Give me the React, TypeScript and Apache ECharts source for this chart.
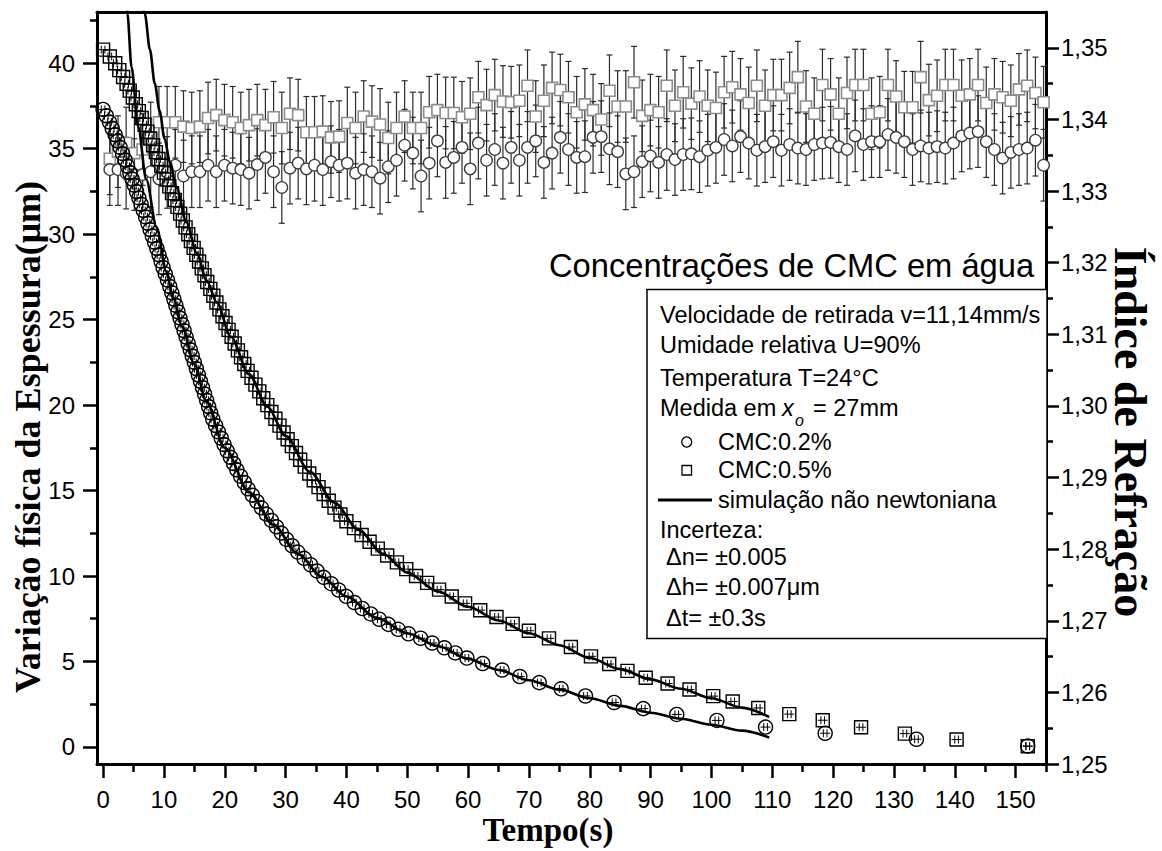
import React, { useEffect, useRef } from 'react';
import * as echarts from 'echarts';

// ---------- axis ticks ----------
const X_TICKS = [0, 10, 20, 30, 40, 50, 60, 70, 80, 90, 100, 110, 120, 130, 140, 150];
const X_MINOR = [5, 15, 25, 35, 45, 55, 65, 75, 85, 95, 105, 115, 125, 135, 145, 155];
const Y_TICKS = [0, 5, 10, 15, 20, 25, 30, 35, 40];
const Y_MINOR = [2.5, 7.5, 12.5, 17.5, 22.5, 27.5, 32.5, 37.5, 42.5];
const N_TICKS = [1.25, 1.26, 1.27, 1.28, 1.29, 1.3, 1.31, 1.32, 1.33, 1.34, 1.35];
const N_MINOR = [1.255, 1.265, 1.275, 1.285, 1.295, 1.305, 1.315, 1.325, 1.335, 1.345];

// ---------- uncertainties ----------
const DELTA_N = 0.005;
const DELTA_T = 0.3;

// ---------- refractive index (right axis) ----------
const INDEX_TIME = [
  1.10, 2.45, 3.79, 5.14, 6.49, 7.83, 9.18, 10.53, 11.87, 13.22, 14.57, 15.91, 17.26, 18.60, 19.95,
  21.30, 22.64, 23.99, 25.34, 26.68, 28.03, 29.38, 30.72, 32.07, 33.42, 34.76, 36.11, 37.46, 38.80, 40.15,
  41.50, 42.84, 44.19, 45.53, 46.88, 48.23, 49.57, 50.92, 52.27, 53.61, 54.96, 56.31, 57.65, 59.00, 60.35,
  61.69, 63.04, 64.39, 65.73, 67.08, 68.43, 69.77, 71.12, 72.46, 73.81, 75.16, 76.50, 77.85, 79.20, 80.54,
  81.89, 83.24, 84.58, 85.93, 87.28, 88.62, 89.97, 91.32, 92.66, 94.01, 95.36, 96.70, 98.05, 99.39, 100.74,
  102.09, 103.43, 104.78, 106.13, 107.47, 108.82, 110.17, 111.51, 112.86, 114.21, 115.55, 116.90, 118.25, 119.59, 120.94,
  122.29, 123.63, 124.98, 126.32, 127.67, 129.02, 130.36, 131.71, 133.06, 134.40, 135.75, 137.10, 138.44, 139.79, 141.14,
  142.48, 143.83, 145.18, 146.52, 147.87, 149.22, 150.56, 151.91, 153.26, 154.60,
];
const INDEX_CMC02 = [
  1.3330, 1.3330, 1.3325, 1.3323, 1.3323, 1.3327, 1.3317, 1.3326, 1.3336, 1.3321, 1.3327, 1.3327, 1.3336, 1.3327, 1.3336,
  1.3332, 1.3330, 1.3325, 1.3337, 1.3347, 1.3327, 1.3305, 1.3332, 1.3339, 1.3331, 1.3336, 1.3330, 1.3341, 1.3336, 1.3339,
  1.3325, 1.3330, 1.3327, 1.3318, 1.3334, 1.3343, 1.3364, 1.3353, 1.3321, 1.3339, 1.3370, 1.3340, 1.3347, 1.3361, 1.3331,
  1.3367, 1.3343, 1.3358, 1.3339, 1.3361, 1.3343, 1.3361, 1.3370, 1.3340, 1.3353, 1.3375, 1.3358, 1.3347, 1.3348, 1.3375,
  1.3376, 1.3359, 1.3355, 1.3324, 1.3327, 1.3341, 1.3349, 1.3340, 1.3351, 1.3344, 1.3351, 1.3352, 1.3348, 1.3357, 1.3361,
  1.3372, 1.3363, 1.3376, 1.3367, 1.3357, 1.3362, 1.3369, 1.3357, 1.3365, 1.3360, 1.3358, 1.3365, 1.3367, 1.3368, 1.3362,
  1.3358, 1.3377, 1.3365, 1.3369, 1.3369, 1.3379, 1.3375, 1.3369, 1.3358, 1.3363, 1.3360, 1.3362, 1.3360, 1.3367, 1.3377,
  1.3381, 1.3383, 1.3369, 1.3358, 1.3346, 1.3354, 1.3358, 1.3360, 1.3371, 1.3336,
];
const INDEX_CMC05 = [
  1.3345, 1.3355, 1.3367, 1.3353, 1.3358, 1.3374, 1.3396, 1.3396, 1.3396, 1.3390, 1.3388, 1.3390, 1.3402, 1.3406, 1.3399,
  1.3396, 1.3388, 1.3392, 1.3399, 1.3392, 1.3403, 1.3388, 1.3408, 1.3406, 1.3382, 1.3382, 1.3383, 1.3375, 1.3376, 1.3395,
  1.3388, 1.3404, 1.3397, 1.3393, 1.3374, 1.3388, 1.3404, 1.3388, 1.3388, 1.3410, 1.3413, 1.3409, 1.3409, 1.3403, 1.3408,
  1.3431, 1.3420, 1.3434, 1.3425, 1.3424, 1.3426, 1.3447, 1.3404, 1.3426, 1.3444, 1.3441, 1.3431, 1.3410, 1.3421, 1.3413,
  1.3400, 1.3440, 1.3418, 1.3418, 1.3452, 1.3405, 1.3413, 1.3410, 1.3447, 1.3419, 1.3438, 1.3422, 1.3432, 1.3419, 1.3416,
  1.3438, 1.3445, 1.3435, 1.3423, 1.3447, 1.3419, 1.3434, 1.3434, 1.3444, 1.3459, 1.3418, 1.3408, 1.3448, 1.3435, 1.3408,
  1.3437, 1.3448, 1.3448, 1.3408, 1.3410, 1.3448, 1.3432, 1.3417, 1.3417, 1.3459, 1.3427, 1.3433, 1.3448, 1.3448, 1.3433,
  1.3435, 1.3448, 1.3423, 1.3435, 1.3431, 1.3426, 1.3442, 1.3447, 1.3437, 1.3424,
];

// ---------- thickness (left axis) ----------
const THICK_CMC02_T = [
  0.00, 0.53, 1.05, 1.51, 1.98, 2.39, 2.80, 3.21, 3.62, 4.03, 4.40, 4.77, 5.14, 5.51, 5.88, 6.25, 6.62, 6.99, 7.36, 7.73,
  8.10, 8.47, 8.84, 9.19, 9.53, 9.86, 10.22, 10.59, 10.96, 11.30, 11.64, 11.97, 12.31, 12.65, 12.98, 13.32, 13.65, 13.99, 14.33, 14.66,
  15.00, 15.34, 15.67, 16.01, 16.35, 16.68, 17.02, 17.36, 17.69, 18.04, 18.50, 18.96, 19.43, 19.89, 20.40, 20.93, 21.46, 21.99, 22.60, 23.22,
  23.83, 24.54, 25.28, 26.02, 26.84, 27.67, 28.49, 29.31, 30.15, 31.08, 32.00, 33.06, 34.11, 35.17, 36.27, 37.50, 38.73, 39.97,
  41.3, 42.6, 44.0, 45.4, 46.9, 48.5, 50.2, 52.2, 54.1, 56.1, 57.9, 59.8, 62.4, 65.6, 68.5, 71.7, 75.3, 79.3, 84.0, 88.8,
  94.3, 100.9, 108.9, 118.7, 133.7, 152.0,
];
const THICK_CMC02_H = [
  37.30, 36.93, 36.56, 36.19, 35.82, 35.45, 35.08, 34.71, 34.34, 33.97, 33.60, 33.23, 32.86, 32.49, 32.12, 31.75, 31.38, 31.01, 30.64, 30.27,
  29.90, 29.53, 29.16, 28.79, 28.42, 28.05, 27.68, 27.31, 26.94, 26.57, 26.20, 25.83, 25.46, 25.09, 24.72, 24.35, 23.98, 23.61, 23.24, 22.87,
  22.50, 22.13, 21.76, 21.39, 21.02, 20.65, 20.28, 19.91, 19.54, 19.17, 18.80, 18.43, 18.06, 17.69, 17.32, 16.95, 16.58, 16.21, 15.84, 15.47,
  15.10, 14.73, 14.36, 13.99, 13.62, 13.25, 12.88, 12.51, 12.14, 11.77, 11.40, 11.03, 10.66, 10.29, 9.92, 9.55, 9.18, 8.81,
  8.45, 8.10, 7.78, 7.47, 7.17, 6.88, 6.62, 6.36, 6.08, 5.80, 5.50, 5.20, 4.88, 4.50, 4.12, 3.76, 3.40, 2.98, 2.60, 2.24,
  1.90, 1.55, 1.16, 0.80, 0.45, 0.05,
];
const THICK_CMC05_T = [
  0.00, 1.11, 2.00, 2.67, 3.29, 3.86, 4.38, 4.88, 5.38, 5.88, 6.35, 6.82, 7.29, 7.76, 8.22, 8.67, 9.11, 9.56, 10.00, 10.44,
  10.89, 11.33, 11.78, 12.22, 12.67, 13.11, 13.56, 14.00, 14.44, 14.89, 15.33, 15.78, 16.22, 16.67, 17.13, 17.63, 18.13, 18.63, 19.13, 19.63,
  20.13, 20.63, 21.13, 21.63, 22.16, 22.68, 23.21, 23.76, 24.40, 25.04, 25.68, 26.33, 27.00, 27.67, 28.33, 29.00, 29.67, 30.34, 31.03, 31.71,
  32.40, 33.14, 33.89, 34.63, 35.42, 36.26, 37.09, 38.04, 39.02, 40.00, 41.25, 42.50, 43.81, 45.16, 46.70, 48.30, 49.84, 51.45, 53.27, 55.23,
  57.31, 59.51, 62.00, 64.67, 67.33, 70.00, 73.30, 76.90, 80.20, 83.20, 86.20, 89.20, 92.80, 96.40, 100.30, 103.50, 107.70, 112.80, 118.30, 124.60,
  131.80, 140.30, 152.00,
];
const THICK_CMC05_H = [
  40.80, 40.40, 40.00, 39.60, 39.20, 38.80, 38.40, 38.00, 37.60, 37.20, 36.80, 36.40, 36.00, 35.60, 35.20, 34.80, 34.40, 34.00, 33.60, 33.20,
  32.80, 32.40, 32.00, 31.60, 31.20, 30.80, 30.40, 30.00, 29.60, 29.20, 28.80, 28.40, 28.00, 27.60, 27.20, 26.80, 26.40, 26.00, 25.60, 25.20,
  24.80, 24.40, 24.00, 23.60, 23.20, 22.80, 22.40, 22.00, 21.60, 21.20, 20.80, 20.40, 20.00, 19.60, 19.20, 18.80, 18.40, 18.00, 17.60, 17.20,
  16.80, 16.40, 16.00, 15.60, 15.20, 14.80, 14.40, 14.00, 13.60, 13.20, 12.80, 12.40, 12.00, 11.60, 11.20, 10.80, 10.40, 10.00, 9.60, 9.20,
  8.80, 8.40, 8.00, 7.60, 7.20, 6.80, 6.35, 5.85, 5.30, 4.85, 4.45, 4.05, 3.71, 3.36, 2.97, 2.66, 2.28, 1.92, 1.56, 1.15,
  0.78, 0.43, 0.04,
];

// ---------- non-newtonian simulation ----------
const SIM_CMC02_T = [3.7, 4.0, 4.67, 5.76, 7.1, 8.8, 10.4, 11.5, 13, 15, 17, 20, 24, 28, 32, 36, 40, 45, 50, 55, 60, 65, 70, 75, 80, 85, 90, 95, 100, 105, 109.5];
const SIM_CMC02_H = [45.0, 42.9, 39.8, 36.3, 33.2, 30.4, 27.8, 26.3, 24.6, 22.4, 20.2, 17.5, 14.9, 13.0, 11.3, 9.95, 8.8, 7.55, 6.65, 5.9, 5.15, 4.5, 3.9, 3.35, 2.85, 2.4, 2.0, 1.65, 1.3, 0.95, 0.55];
const SIM_CMC05_T = [6.05, 6.86, 7.7, 8.5, 9.3, 10.1, 11.0, 12.1, 13.7, 15.4, 17.0, 18.7, 21, 24, 27, 30, 34, 38, 42, 46, 50, 55, 60, 65, 70, 75, 80, 85, 90, 95, 100, 105, 109.5];
const SIM_CMC05_H = [45.0, 42.9, 40.8, 38.8, 37.2, 35.6, 34.2, 32.7, 30.7, 28.9, 27.3, 26.0, 24.0, 21.8, 19.9, 18.2, 16.1, 14.3, 12.7, 11.3, 10.2, 9.1, 8.2, 7.4, 6.65, 5.95, 5.2, 4.55, 3.95, 3.4, 2.85, 2.3, 1.75];

const SANS = 'Liberation Sans';
const SERIF = 'Liberation Serif';
const AX_LINE = { color: '#000', width: 3 };
const TICK = { color: '#000', width: 2.5 };

const zip = (a: number[], b: number[]) => a.map((v, i) => [v, b[i]]);

function valueAxis(min: number, max: number, extra: any) {
  return {
    type: 'value',
    min,
    max,
    splitLine: { show: false },
    axisPointer: { show: false },
    ...extra,
  };
}

function errorBarRender(params: any, api: any) {
  const t = api.value(0);
  const v = api.value(1);
  const top = api.coord([t, v + DELTA_N]);
  const bot = api.coord([t, v - DELTA_N]);
  const cw = 3;
  const st = { stroke: '#2b2b2b', lineWidth: 1.2 };
  return {
    type: 'group',
    children: [
      { type: 'line', shape: { x1: top[0], y1: top[1], x2: bot[0], y2: bot[1] }, style: st },
      { type: 'line', shape: { x1: top[0] - cw, y1: top[1], x2: top[0] + cw, y2: top[1] }, style: st },
      { type: 'line', shape: { x1: bot[0] - cw, y1: bot[1], x2: bot[0] + cw, y2: bot[1] }, style: st },
    ],
  };
}

function crossRender(params: any, api: any) {
  const t = api.value(0);
  const h = api.value(1);
  const c = api.coord([t, h]);
  const l = api.coord([t - DELTA_T, h]);
  const r = api.coord([t + DELTA_T, h]);
  const st = { stroke: '#000', lineWidth: 1 };
  return {
    type: 'group',
    children: [
      { type: 'line', shape: { x1: c[0] - 5, y1: c[1], x2: c[0] + 5, y2: c[1] }, style: st },
      { type: 'line', shape: { x1: l[0], y1: c[1] - 4, x2: l[0], y2: c[1] + 4 }, style: st },
      { type: 'line', shape: { x1: r[0], y1: c[1] - 4, x2: r[0], y2: c[1] + 4 }, style: st },
    ],
  };
}

function txt(text: string, x: number, y: number, size = 23.5, extra: any = {}) {
  return {
    type: 'text',
    x,
    y,
    z: 20,
    silent: true,
    style: {
      text,
      fill: '#000',
      fontSize: size,
      fontFamily: SANS,
      align: 'left',
      textAlign: 'left',
      verticalAlign: 'middle',
      textVerticalAlign: 'middle',
      ...extra,
    },
  };
}

function buildOption() {
  const thick02 = zip(THICK_CMC02_T, THICK_CMC02_H);
  const thick05 = zip(THICK_CMC05_T, THICK_CMC05_H);
  const idx02 = zip(INDEX_TIME, INDEX_CMC02);
  const idx05 = zip(INDEX_TIME, INDEX_CMC05);

  return {
    animation: false,
    backgroundColor: '#fff',
    grid: { left: 97, top: 12, width: 949, height: 752, containLabel: false },
    xAxis: [
      valueAxis(-1, 155, {
        position: 'bottom',
        axisLine: { show: true, onZero: false, lineStyle: AX_LINE },
        axisTick: { show: true, inside: false, length: 14, lineStyle: TICK, customValues: X_TICKS },
        axisLabel: { show: true, customValues: X_TICKS, margin: 23, fontSize: 24, fontFamily: SANS, color: '#000' },
      }),
      valueAxis(-1, 155, {
        position: 'bottom',
        axisLine: { show: false, onZero: false },
        axisTick: { show: true, inside: false, length: 8, lineStyle: TICK, customValues: X_MINOR },
        axisLabel: { show: false },
      }),
      valueAxis(-1, 155, {
        position: 'top',
        axisLine: { show: true, onZero: false, lineStyle: AX_LINE },
        axisTick: { show: false },
        axisLabel: { show: false },
      }),
    ],
    yAxis: [
      valueAxis(-1, 43, {
        position: 'left',
        axisLine: { show: true, onZero: false, lineStyle: AX_LINE },
        axisTick: { show: true, inside: false, length: 14, lineStyle: TICK, customValues: Y_TICKS },
        axisLabel: { show: true, customValues: Y_TICKS, margin: 22, fontSize: 24, fontFamily: SANS, color: '#000' },
      }),
      valueAxis(1.25, 1.355, {
        position: 'right',
        axisLine: { show: true, onZero: false, lineStyle: AX_LINE },
        axisTick: { show: true, inside: false, length: 13, lineStyle: TICK, customValues: N_TICKS },
        axisLabel: {
          show: true,
          customValues: N_TICKS,
          margin: 15,
          fontSize: 24,
          fontFamily: SANS,
          color: '#000',
          formatter: (v: number) => v.toFixed(2).replace('.', ','),
        },
      }),
      valueAxis(-1, 43, {
        position: 'left',
        axisLine: { show: false, onZero: false },
        axisTick: { show: true, inside: false, length: 7, lineStyle: TICK, customValues: Y_MINOR },
        axisLabel: { show: false },
      }),
      valueAxis(1.25, 1.355, {
        position: 'right',
        axisLine: { show: false, onZero: false },
        axisTick: { show: true, inside: false, length: 7, lineStyle: TICK, customValues: N_MINOR },
        axisLabel: { show: false },
      }),
    ],
    series: [
      {
        name: 'Índice CMC:0.5% (erro)',
        type: 'custom',
        xAxisIndex: 0,
        yAxisIndex: 1,
        z: 2,
        silent: true,
        renderItem: errorBarRender,
        encode: { x: 0, y: 1 },
        data: idx05,
      },
      {
        name: 'Índice CMC:0.2% (erro)',
        type: 'custom',
        xAxisIndex: 0,
        yAxisIndex: 1,
        z: 2,
        silent: true,
        renderItem: errorBarRender,
        encode: { x: 0, y: 1 },
        data: idx02,
      },
      {
        name: 'Índice CMC:0.5%',
        type: 'scatter',
        xAxisIndex: 0,
        yAxisIndex: 1,
        z: 3,
        symbol: 'rect',
        symbolSize: 11,
        itemStyle: { color: '#fff', borderColor: '#8c8c8c', borderWidth: 1.6, opacity: 1 },
        data: idx05,
      },
      {
        name: 'Índice CMC:0.2%',
        type: 'scatter',
        xAxisIndex: 0,
        yAxisIndex: 1,
        z: 4,
        symbol: 'circle',
        symbolSize: 11.5,
        itemStyle: { color: '#fff', borderColor: '#3a3a3a', borderWidth: 1.3, opacity: 1 },
        data: idx02,
      },
      {
        name: 'CMC:0.2%',
        type: 'scatter',
        xAxisIndex: 0,
        yAxisIndex: 0,
        z: 5,
        symbol: 'circle',
        symbolSize: 14,
        itemStyle: { color: 'rgba(255,255,255,0)', borderColor: '#000', borderWidth: 1.4, opacity: 1 },
        data: thick02,
      },
      {
        name: 'CMC:0.5%',
        type: 'scatter',
        xAxisIndex: 0,
        yAxisIndex: 0,
        z: 5,
        symbol: 'rect',
        symbolSize: 13,
        itemStyle: { color: 'rgba(255,255,255,0)', borderColor: '#000', borderWidth: 1.4, opacity: 1 },
        data: thick05,
      },
      {
        name: 'CMC:0.2% (erro)',
        type: 'custom',
        xAxisIndex: 0,
        yAxisIndex: 0,
        z: 6,
        silent: true,
        renderItem: crossRender,
        encode: { x: 0, y: 1 },
        data: thick02,
      },
      {
        name: 'CMC:0.5% (erro)',
        type: 'custom',
        xAxisIndex: 0,
        yAxisIndex: 0,
        z: 6,
        silent: true,
        renderItem: crossRender,
        encode: { x: 0, y: 1 },
        data: thick05,
      },
      {
        name: 'simulação CMC:0.2%',
        type: 'line',
        xAxisIndex: 0,
        yAxisIndex: 0,
        z: 7,
        clip: true,
        showSymbol: false,
        symbol: 'none',
        smooth: 0.3,
        smoothMonotone: 'x',
        lineStyle: { color: '#000', width: 2.6 },
        data: zip(SIM_CMC02_T, SIM_CMC02_H),
      },
      {
        name: 'simulação CMC:0.5%',
        type: 'line',
        xAxisIndex: 0,
        yAxisIndex: 0,
        z: 7,
        clip: true,
        showSymbol: false,
        symbol: 'none',
        smooth: 0.3,
        smoothMonotone: 'x',
        lineStyle: { color: '#000', width: 2.6 },
        data: zip(SIM_CMC05_T, SIM_CMC05_H),
      },
    ],
    graphic: [
      // axis titles
      {
        type: 'text',
        x: 548,
        y: 830,
        silent: true,
        style: {
          text: 'Tempo(s)',
          fill: '#000',
          fontSize: 33,
          fontWeight: 'bold',
          fontFamily: SERIF,
          align: 'center',
          textAlign: 'center',
          verticalAlign: 'middle',
          textVerticalAlign: 'middle',
        },
      },
      {
        type: 'text',
        x: 28,
        y: 437,
        rotation: Math.PI / 2,
        silent: true,
        style: {
          text: 'Variação física da Espessura(μm)',
          fill: '#000',
          fontSize: 36,
          fontWeight: 'bold',
          fontFamily: SERIF,
          align: 'center',
          textAlign: 'center',
          verticalAlign: 'middle',
          textVerticalAlign: 'middle',
        },
      },
      {
        type: 'text',
        x: 1130,
        y: 432,
        rotation: -Math.PI / 2,
        silent: true,
        style: {
          text: 'Índice de Refração',
          fill: '#000',
          fontSize: 46,
          fontWeight: 'bold',
          fontFamily: SERIF,
          align: 'center',
          textAlign: 'center',
          verticalAlign: 'middle',
          textVerticalAlign: 'middle',
        },
      },
      // chart heading
      txt('Concentrações de CMC em água', 549, 265, 32.7),
      // legend box
      {
        type: 'rect',
        z: 15,
        silent: true,
        shape: { x: 647, y: 289.5, width: 400, height: 349 },
        style: { fill: '#fff', stroke: '#000', lineWidth: 1.5 },
      },
      txt('Velocidade de retirada v=11,14mm/s', 660, 315),
      txt('Umidade relativa U=90%', 660, 345),
      txt('Temperatura T=24°C', 660, 378),
      txt('Medida em ', 660, 408),
      txt('x', 782, 408, 23.5, { fontStyle: 'italic' }),
      txt('o', 795, 420, 16, { fontStyle: 'italic' }),
      txt('= 27mm', 813, 408),
      {
        type: 'circle',
        z: 20,
        silent: true,
        shape: { cx: 686.7, cy: 442, r: 5 },
        style: { fill: 'none', stroke: '#000', lineWidth: 1.3 },
      },
      txt('CMC:0.2%', 718, 442),
      {
        type: 'rect',
        z: 20,
        silent: true,
        shape: { x: 682, y: 465.5, width: 9.5, height: 9.5 },
        style: { fill: 'none', stroke: '#000', lineWidth: 1.3 },
      },
      txt('CMC:0.5%', 718, 470),
      {
        type: 'line',
        z: 20,
        silent: true,
        shape: { x1: 658, y1: 500, x2: 712, y2: 500 },
        style: { stroke: '#000', lineWidth: 3 },
      },
      txt('simulação não newtoniana', 718, 500),
      txt('Incerteza:', 660, 530),
      txt('Δn= ±0.005', 666, 557),
      txt('Δh= ±0.007μm', 666, 587),
      txt('Δt= ±0.3s', 666, 618),
    ],
  };
}

export default function App() {
  const ref = useRef<HTMLDivElement>(null);
  useEffect(() => {
    if (!ref.current) return;
    const chart = echarts.init(ref.current, null, { renderer: 'svg' });
    chart.setOption(buildOption() as any);
    return () => {
      chart.dispose();
    };
  }, []);
  return (
    <div
      ref={ref}
      style={{ position: 'absolute', left: 0, top: 0, width: 1162, height: 851, background: '#fff' }}
    />
  );
}
